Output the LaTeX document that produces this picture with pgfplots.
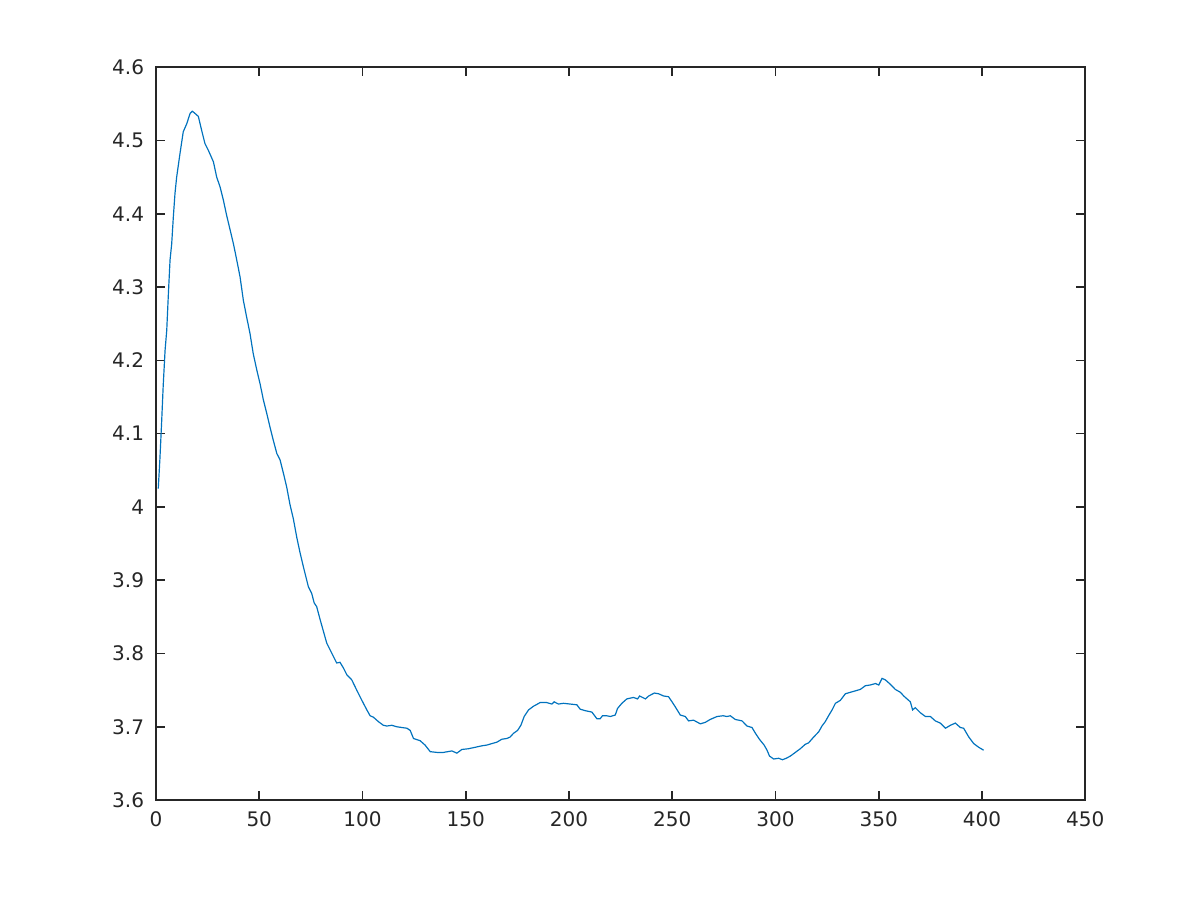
\documentclass[border=0pt]{standalone}
\usepackage{pgfplots}
\pgfplotsset{compat=1.18}
\usepackage{fontspec}
\setmainfont{DejaVu Sans}
\definecolor{mlblue}{rgb}{0,0.447,0.741}
\definecolor{mlaxis}{rgb}{0.15,0.15,0.15}
\begin{document}
\begin{tikzpicture}
\path (0,0) rectangle (16cm,12cm);
\begin{axis}[
  at={(2.08cm,1.333cm)}, anchor=south west,
  scale only axis, width=12.39cm, height=9.77cm,
  xmin=0, xmax=450, ymin=3.6, ymax=4.6,
  xtick={0,50,...,450},
  ytick={3.6,3.7,...,4.6},
  yticklabels={3.6,3.7,3.8,3.9,4,4.1,4.2,4.3,4.4,4.5,4.6},
  axis line style={mlaxis, line width=0.8pt},
  tick style={mlaxis, line width=0.6pt},
  major tick length=0.12cm,
  tick align=inside,
  ticklabel style={font=\fontsize{7.6}{9}\selectfont, color=mlaxis},
  /pgf/number format/assume math mode=true,
  xticklabel style={yshift=-1pt},
  yticklabel style={xshift=-1pt},
]
\addplot[mlblue, line width=0.45pt] coordinates {
(1.1,4.025)(1.9,4.066)(2.7,4.114)(3.5,4.166)(4.4,4.214)(5.2,4.241)(6.0,4.291)
(6.8,4.337)(7.6,4.359)(8.4,4.396)(9.2,4.428)(10.0,4.450)(11.6,4.482)(13.2,4.512)
(14.9,4.523)(16.5,4.537)(17.6,4.540)(18.9,4.537)(20.5,4.533)(22.1,4.514)(23.7,4.496)
(25.3,4.487)(27.8,4.471)(29.4,4.450)(31.0,4.437)(32.6,4.419)(34.2,4.398)(35.9,4.378)
(37.5,4.359)(39.1,4.337)(40.7,4.314)(42.3,4.282)(43.9,4.259)(45.5,4.237)(47.1,4.209)
(48.8,4.187)(50.4,4.168)(52.0,4.146)(53.6,4.128)(55.2,4.109)(56.8,4.091)(58.5,4.073)
(60.1,4.064)(61.7,4.046)(63.3,4.027)(64.9,4.003)(66.5,3.984)(68.2,3.958)(69.8,3.937)
(71.4,3.918)(73.0,3.900)(73.8,3.891)(75.4,3.882)(76.6,3.869)(77.8,3.864)(79.5,3.846)
(81.1,3.830)(82.7,3.814)(84.3,3.805)(85.9,3.796)(87.5,3.787)(89.1,3.788)(90.8,3.780)
(92.4,3.771)(94.8,3.764)(97.2,3.750)(99.7,3.736)(102.1,3.723)(103.7,3.715)(105.3,3.713)
(107.7,3.707)(110.1,3.702)(111.8,3.701)(114.2,3.702)(116.6,3.700)(119.0,3.699)
(121.5,3.698)(123.1,3.695)(124.7,3.684)(127.9,3.681)(130.3,3.675)(132.8,3.666)
(136.0,3.665)(139.2,3.665)(143.3,3.667)(145.7,3.664)(148.1,3.669)(151.3,3.670)
(154.6,3.672)(157.8,3.674)(160.2,3.675)(162.6,3.677)(165.1,3.679)(167.5,3.683)
(169.9,3.684)(171.5,3.686)(173.1,3.691)(175.1,3.695)(176.7,3.702)(178.3,3.714)
(180.4,3.723)(182.8,3.728)(186.0,3.733)(189.2,3.733)(191.7,3.731)(192.8,3.734)
(194.9,3.731)(197.3,3.732)(200.6,3.731)(203.8,3.730)(205.4,3.724)(207.8,3.722)
(211.1,3.720)(213.5,3.711)(215.1,3.711)(216.2,3.715)(218.3,3.715)(220.0,3.714)
(222.4,3.716)(223.5,3.725)(225.6,3.732)(228.0,3.738)(231.2,3.740)(233.2,3.738)
(234.2,3.742)(237.0,3.738)(238.6,3.742)(241.3,3.746)(243.4,3.745)(245.8,3.742)
(248.2,3.741)(249.9,3.734)(251.5,3.727)(253.9,3.716)(256.3,3.714)(257.9,3.708)
(260.3,3.709)(263.6,3.704)(266.0,3.706)(268.4,3.710)(271.7,3.714)(274.6,3.715)
(276.5,3.714)(278.1,3.715)(280.5,3.710)(283.8,3.708)(286.2,3.701)(288.6,3.699)
(290.3,3.691)(292.2,3.683)(294.5,3.675)(295.9,3.668)(297.1,3.660)(299.1,3.656)
(301.5,3.657)(303.4,3.655)(305.2,3.657)(307.2,3.660)(309.6,3.665)(312.0,3.670)
(314.4,3.676)(316.0,3.678)(318.5,3.686)(320.9,3.693)(322.5,3.701)(324.1,3.707)
(325.7,3.715)(327.4,3.723)(329.0,3.732)(331.4,3.736)(333.8,3.745)(336.2,3.747)
(338.7,3.749)(341.1,3.751)(343.5,3.756)(345.9,3.757)(348.4,3.759)(350.0,3.757)
(351.6,3.766)(353.2,3.764)(355.6,3.758)(358.0,3.751)(360.5,3.747)(362.1,3.742)
(365.3,3.734)(366.4,3.723)(367.7,3.726)(370.2,3.719)(372.6,3.714)(375.0,3.714)
(377.4,3.708)(379.8,3.705)(382.3,3.698)(384.7,3.702)(387.1,3.705)(389.5,3.699)
(391.1,3.698)(393.6,3.686)(396.0,3.677)(398.4,3.672)(400.8,3.668)
};
\end{axis}
\end{tikzpicture}
\end{document}
